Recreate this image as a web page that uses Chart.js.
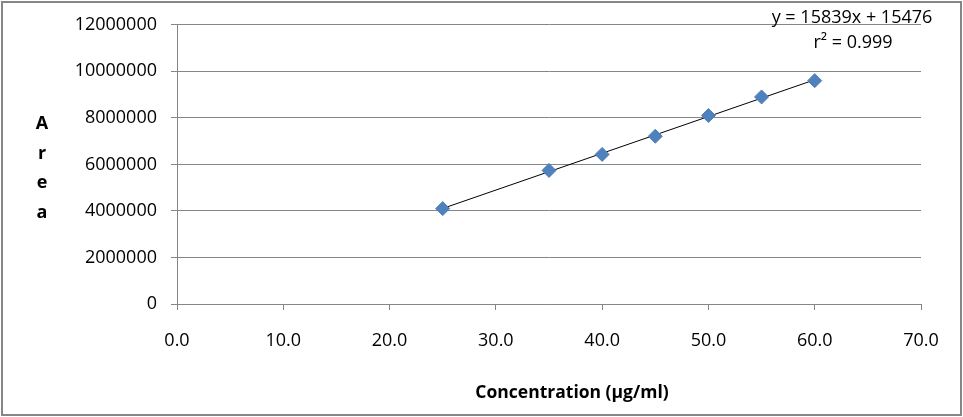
<!DOCTYPE html>
<html>
<head>
<meta charset="utf-8">
<script src="https://cdn.jsdelivr.net/npm/chart.js@4"></script>
<style>
  html, body { margin: 0; padding: 0; background: #fff; }
  #wrap { width: 963px; height: 417px; position: relative; }
</style>
</head>
<body>
<div id="wrap"><canvas id="calib"></canvas></div>
<script>
const concentration = [25, 35, 40, 45, 50, 55, 60];
const area = [4100000, 5740000, 6430000, 7210000, 8100000, 8900000, 9600000];
const yTicks = [0, 2000000, 4000000, 6000000, 8000000, 10000000, 12000000];
const xTicks = [0, 10, 20, 30, 40, 50, 60, 70];
const equationText = "y = 15839x + 15476";
const r2Text = "r\u00b2 = 0.999";

const FONT = "'Open Sans', sans-serif";
const GRID = "#868686";

// least squares fit, drawn between first and last standard
function fitLine(xs, ys) {
    const n = xs.length;
    const mx = xs.reduce((a, b) => a + b, 0) / n;
    const my = ys.reduce((a, b) => a + b, 0) / n;
    let sxy = 0, sxx = 0;
    for (let i = 0; i < n; i++) {
        sxy += (xs[i] - mx) * (ys[i] - my);
        sxx += (xs[i] - mx) * (xs[i] - mx);
    }
    const m = sxy / sxx;
    const b = my - m * mx;
    const x0 = Math.min(...xs), x1 = Math.max(...xs);
    return [{ x: x0, y: m * x0 + b }, { x: x1, y: m * x1 + b }];
}

const extras = {
    id: "extras",
    afterDraw(chart) {
        const ctx = chart.ctx;
        ctx.save();
        // outer frame
        ctx.strokeStyle = GRID;
        ctx.lineWidth = 2;
        ctx.strokeRect(2, 2, 959, 413);

        ctx.fillStyle = "#000";
        ctx.textAlign = "center";
        ctx.textBaseline = "alphabetic";

        // stacked y title
        ctx.font = "bold 18px " + FONT;
        const letters = ["A", "r", "e", "a"];
        letters.forEach((ch, i) => ctx.fillText(ch, 42, 129 + i * 29.7));

        // x title
        ctx.font = "bold 17.5px " + FONT;
        ctx.fillText("Concentration (\u00b5g/ml)", 572, 398);

        // trendline label
        ctx.font = "18px " + FONT;
        ctx.fillText(equationText, 852, 23);
        ctx.fillText(r2Text, 853, 48);
        ctx.restore();
    }
};

document.addEventListener("DOMContentLoaded", () => {
    const points = concentration.map((x, i) => ({ x: x, y: area[i] }));

    new Chart(document.getElementById("calib"), {
        type: "scatter",
        data: {
            datasets: [
                {
                    label: "Area",
                    data: points,
                    pointStyle: "rectRot",
                    pointRadius: 7,
                    pointHoverRadius: 7,
                    backgroundColor: "#4f81bd",
                    borderColor: "#4a7ebb",
                    borderWidth: 1,
                    order: 1,
                },
                {
                    label: "Linear",
                    type: "line",
                    data: fitLine(concentration, area),
                    borderColor: "#000",
                    borderWidth: 1,
                    pointRadius: 0,
                    fill: false,
                    order: 2,
                },
            ],
        },
        options: {
            responsive: true,
            maintainAspectRatio: false,
            animation: false,
            layout: { padding: { left: 0, top: 24, right: 42, bottom: 0 } },
            plugins: {
                legend: { display: false },
                tooltip: { enabled: false },
            },
            scales: {
                x: {
                    type: "linear",
                    min: 0,
                    max: 70,
                    afterFit: (s) => { s.height = 113; },
                    afterBuildTicks: (s) => { s.ticks = xTicks.map((v) => ({ value: v })); },
                    grid: { drawOnChartArea: false, drawTicks: true, tickLength: 6, color: GRID },
                    border: { color: GRID },
                    ticks: {
                        color: "#000",
                        font: { family: FONT, size: 18 },
                        padding: 20,
                        maxRotation: 0,
                        callback: (v) => Number(v).toFixed(1),
                    },
                },
                y: {
                    type: "linear",
                    min: 0,
                    max: 12000000,
                    afterFit: (s) => { s.width = 177; },
                    afterBuildTicks: (s) => { s.ticks = yTicks.map((v) => ({ value: v })); },
                    grid: { color: GRID, tickLength: 6 },
                    border: { color: GRID },
                    ticks: {
                        color: "#000",
                        font: { family: FONT, size: 18 },
                        padding: 14,
                        callback: (v) => String(v),
                    },
                },
            },
        },
        plugins: [extras],
    });
});
</script>
</body>
</html>
